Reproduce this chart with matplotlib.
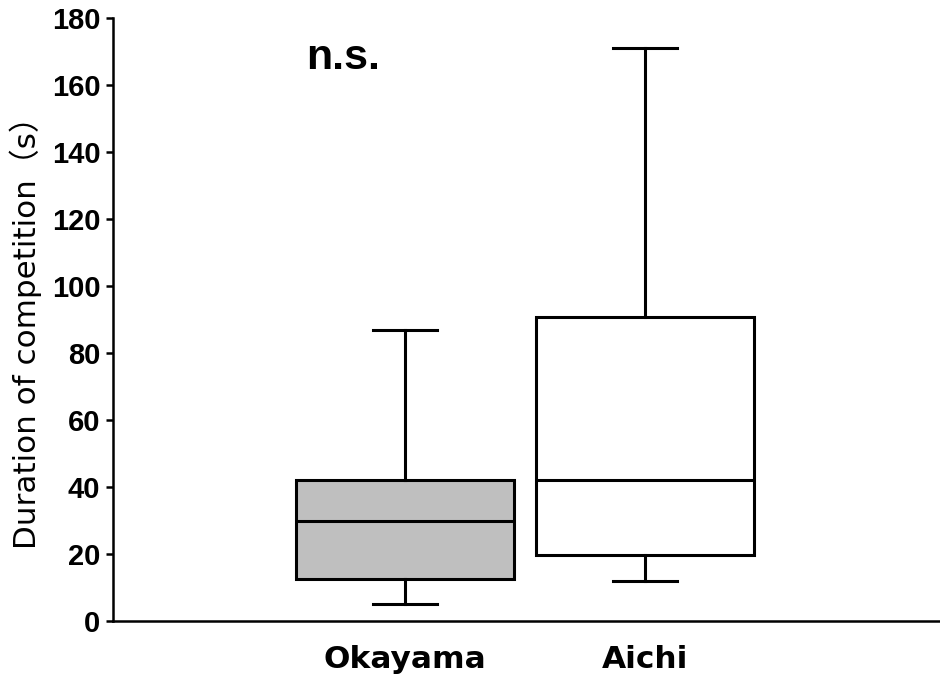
import matplotlib
matplotlib.use("Agg")
import matplotlib.pyplot as plt

categories = ["Okayama", "Aichi"]
whislo = [5, 12]
q1 = [12.5, 19.8]
med = [30, 42]
q3 = [42.1, 90.7]
whishi = [87, 171]
fills = ["#bfbfbf", "#ffffff"]
yticks = [0, 20, 40, 60, 80, 100, 120, 140, 160, 180]

plt.rcParams['font.family'] = ['DejaVu Sans', 'Noto Sans CJK JP']

fig = plt.figure(figsize=(9.4, 6.82), dpi=100)
ax = fig.add_axes([113/940, (682-621)/682, (940-113)/940, (621-18)/682])

stats = []
for i, c in enumerate(categories):
    stats.append(dict(label=c, whislo=whislo[i], q1=q1[i], med=med[i],
                      q3=q3[i], whishi=whishi[i], fliers=[]))

lw = 2.2
bp = ax.bxp(stats, positions=[1, 2], widths=0.91, capwidths=0.27,
            patch_artist=True, showfliers=False,
            boxprops=dict(linewidth=lw, edgecolor='black'),
            medianprops=dict(linewidth=lw, color='black'),
            whiskerprops=dict(linewidth=lw, color='black'),
            capprops=dict(linewidth=lw, color='black'))
for patch, f in zip(bp['boxes'], fills):
    patch.set_facecolor(f)

ax.set_xlim(-0.217, 3.229)
ax.set_ylim(0, 180)
ax.set_yticks(yticks)
ax.set_yticklabels([str(t) for t in yticks], fontsize=21, fontweight='bold',
                   family=['Liberation Sans', 'DejaVu Sans'])
ax.set_xticks([1, 2])
ax.set_xticklabels(categories, fontsize=22.5, fontweight='bold',
                   family=['DejaVu Sans'])
ax.tick_params(axis='x', length=0, pad=17)
ax.tick_params(axis='y', length=5, width=1.8, pad=4)
for s in ['top', 'right']:
    ax.spines[s].set_visible(False)
for s in ['left', 'bottom']:
    ax.spines[s].set_linewidth(1.8)

ax.set_ylabel("Duration of competition（s）", fontsize=22.3,
              family=['DejaVu Sans', 'Noto Sans CJK JP'])
ax.yaxis.set_label_coords(-0.086, 0.49)
ax.text(0.74, 168, "n.s.", fontsize=31, fontweight='bold', ha='center', va='center',
        family=['Liberation Sans', 'DejaVu Sans'])

fig.savefig("out.png", dpi=100)
